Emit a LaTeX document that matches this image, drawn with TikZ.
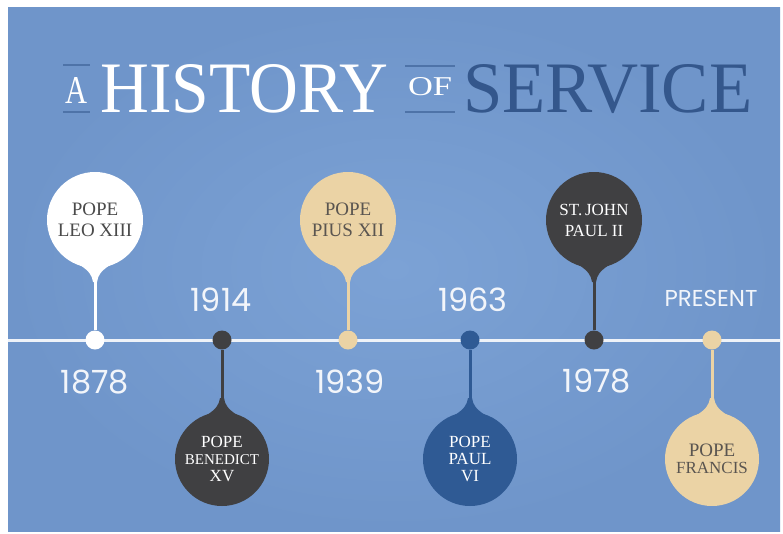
\documentclass[tikz,border=0pt]{standalone}
\usepackage{fontspec}
\usepackage{graphicx}
\setmainfont{Liberation Serif}
\newfontfamily\yearfont{Poppins}
\newfontfamily\titlefont{Liberation Serif}
\definecolor{bglight}{HTML}{7CA2D5}
\definecolor{bgdark}{HTML}{6F95CA}
\definecolor{tline}{HTML}{EEF2F8}
\definecolor{pwhite}{HTML}{FFFFFF}
\definecolor{pdark}{HTML}{404042}
\definecolor{pbeige}{HTML}{EBD3A5}
\definecolor{pnavy}{HTML}{2F5A94}
\definecolor{tgray}{HTML}{4A4A4A}
\definecolor{tbeige}{HTML}{5A5550}
\definecolor{titleblue}{HTML}{34578C}
\definecolor{rulecol}{HTML}{4E73A8}
\definecolor{yearcol}{HTML}{F2F5FA}
\tikzset{
  dotnode/.style={circle, inner sep=0pt, minimum size=19pt},
  stemline/.style={line width=3pt},
  pinc/.style={circle, inner sep=0pt, minimum size=96pt, align=center, font=\fontsize{19}{21}\selectfont},
  pincb/.style={circle, inner sep=0pt, minimum size=94pt, align=center, font=\fontsize{17}{17}\selectfont},
  yearlbl/.style={inner sep=0pt, text=yearcol, font=\yearfont\fontsize{32}{32}\selectfont},
  titlerule/.style={line width=2.5pt, draw=rulecol},
}
\newcommand{\pinup}[5]{%
  \coordinate (#1tip) at (#2,281);
  \node[dotnode, fill=#3] (#1dot) at (#2,340) {};
  \draw[stemline, draw=#3] (#1dot) -- (#1tip);
  \fill[#3] (#2-15,265) .. controls (#2-6,271) and (#2-3,275) .. (#2-2,282) -- (#2+2,282) .. controls (#2+3,275) and (#2+6,271) .. (#2+15,265) -- cycle;
  \node[pinc, fill=#3, text=#4] (#1) at (#2,220) {#5};
}
\newcommand{\pindown}[5]{%
  \coordinate (#1tip) at (#2,399);
  \node[dotnode, fill=#3] (#1dot) at (#2,340) {};
  \draw[stemline, draw=#3] (#1dot) -- (#1tip);
  \fill[#3] (#2-15,415) .. controls (#2-6,409) and (#2-3,405) .. (#2-2,398) -- (#2+2,398) .. controls (#2+3,405) and (#2+6,409) .. (#2+15,415) -- cycle;
  \node[pincb, fill=#3, text=#4] (#1) at (#2,459) {#5};
}
\begin{document}
\begin{tikzpicture}[x=1pt,y=-1pt]
\useasboundingbox (0,0) rectangle (783,533);
\fill[white] (0,0) rectangle (783,533);
\shade[inner color=bglight, outer color=bgdark] (8,7) rectangle (780,531);
% title
\draw[titlerule] (63,65) -- (90,65);
\draw[titlerule] (63,112) -- (90,112);
\node[anchor=base, inner sep=0pt, text=white] (tA) at (77,103) {\resizebox{22pt}{26pt}{\titlefont A}};
\node[anchor=base west, inner sep=0pt, text=white] (tH) at (100,112) {\resizebox{288pt}{48pt}{\titlefont HISTORY}};
\draw[titlerule] (405,66) -- (455,66);
\draw[titlerule] (405,112) -- (455,112);
\node[anchor=base, inner sep=0pt, text=white] (tO) at (430,95) {\resizebox{44pt}{18pt}{\titlefont OF}};
\node[anchor=base west, inner sep=0pt, text=titleblue] (tS) at (463,112) {\resizebox{289pt}{48pt}{\titlefont SERVICE}};
% timeline
\coordinate (tlL) at (8,340);
\coordinate (tlR) at (780,340);
\draw[line width=3pt, tline] (tlL) -- (tlR);
% pins
\pinup{leo}{95}{pwhite}{tgray}{POPE\\LEO XIII}
\pindown{ben}{222}{pdark}{white}{POPE\\{\fontsize{15}{15}\selectfont BENEDICT}\\XV}
\pinup{pius}{348}{pbeige}{tbeige}{POPE\\PIUS XII}
\pindown{paul}{470}{pnavy}{white}{POPE\\PAUL\\VI}
\pinup{jp}{594}{pdark}{white}{{\fontsize{17}{21}\selectfont ST.\,JOHN}\\{\fontsize{17}{17}\selectfont PAUL II}}
\pindown{fra}{712}{pbeige}{tbeige}{{\fontsize{19}{21}\selectfont POPE}\\{\fontsize{17}{17}\selectfont FRANCIS}}
% years
\node[yearlbl] (y1878) at (95,382) {1878};
\node[yearlbl] (y1914) at (221,300) {1914};
\node[yearlbl] (y1939) at (350,382) {1939};
\node[yearlbl] (y1963) at (473,300) {1963};
\node[yearlbl] (y1978) at (597,381) {1978};
\node[yearlbl, font=\yearfont\fontsize{23}{23}\selectfont] (ypres) at (711,298) {PRESENT};
\end{tikzpicture}
\end{document}
